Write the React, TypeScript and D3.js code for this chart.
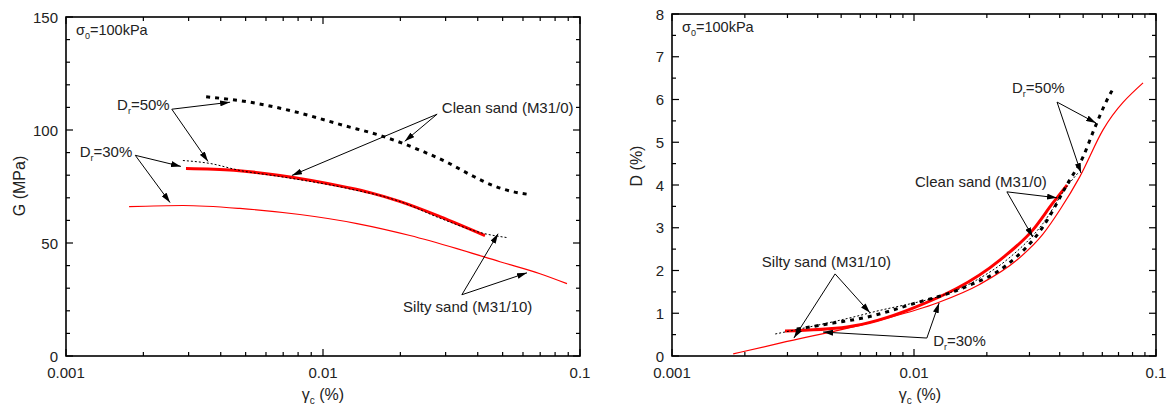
import React from 'react';
import * as d3 from 'd3';

const W = 1168;
const H = 406;
const FONT = 'Arial, "Liberation Sans", Helvetica, sans-serif';

// ---------- Data: left panel, G (MPa) vs cyclic strain γc (%) ----------
const gDr50Clean: [number, number][] = [
  [0.00351, 114.7], [0.0052, 112.3], [0.00764, 108.3], [0.01196, 102.1], [0.0171, 97.2],
  [0.0239, 91.0], [0.0304, 85.7], [0.0373, 80.3], [0.0459, 75.4], [0.0549, 72.7],
  [0.0622, 71.6],
];
const gDr50Silty: [number, number][] = [
  [0.00285, 86.5], [0.00363, 85.2], [0.00475, 82.1], [0.0068, 79.4], [0.0124, 74.2],
  [0.02, 68.3], [0.0285, 61.0], [0.0427, 54.1], [0.052, 52.4],
];
const gDr30Clean: [number, number][] = [
  [0.00293, 83.0], [0.0045, 82.2], [0.0068, 79.9], [0.0124, 74.6], [0.01524, 72.3],
  [0.02, 68.3], [0.0285, 61.7], [0.0427, 53.3],
];
const gDr30Silty: [number, number][] = [
  [0.00176, 66.1], [0.00285, 66.6], [0.00475, 65.3], [0.00813, 62.6], [0.01356, 58.6],
  [0.0218, 53.3], [0.0332, 47.5], [0.0488, 41.7], [0.0699, 36.4], [0.089, 32.0],
];

// ---------- Data: right panel, D (%) vs cyclic strain γc (%) ----------
const dDr50Clean: [number, number][] = [
  [0.00328, 0.63], [0.00463, 0.77], [0.0064, 0.91], [0.0099, 1.22], [0.0159, 1.59],
  [0.0242, 2.13], [0.0341, 3.02], [0.0433, 4.05], [0.0499, 4.65], [0.0554, 5.29],
  [0.0634, 6.04], [0.066, 6.22],
];
const dDr50Silty: [number, number][] = [
  [0.00267, 0.515], [0.00658, 1.01], [0.0182, 1.78], [0.0242, 2.25], [0.0341, 3.1],
  [0.0433, 4.0], [0.0476, 4.28],
];
const dDr30Clean: [number, number][] = [
  [0.00293, 0.585], [0.00529, 0.68], [0.0099, 1.12], [0.0227, 2.25], [0.031, 2.95],
  [0.0375, 3.58], [0.0429, 4.0],
];
const dDr30Silty: [number, number][] = [
  [0.00179, 0.05], [0.00279, 0.3], [0.00724, 0.84], [0.01245, 1.24], [0.01874, 1.68],
  [0.0267, 2.25], [0.0341, 2.85], [0.0401, 3.42], [0.0484, 4.19], [0.0604, 5.29],
  [0.0884, 6.39],
];

// ---------- Axes ----------
const strainDomain: [number, number] = [0.001, 0.1];
const strainTickLabels = ['0.001', '0.01', '0.1'];
const gDomain: [number, number] = [0, 150];
const gTickValues = [0, 50, 100, 150];
const gMinorStep = 10;
const dDomain: [number, number] = [0, 8];
const dTickValues = [0, 1, 2, 3, 4, 5, 6, 7, 8];
const dMinorStep = 0.5;

// ---------- Annotations (data coordinates) ----------
type Note = { main: string; sub?: string; rest?: string; at: [number, number]; from: [number, number]; to: [number, number][] };
const gNotes: Note[] = [
  { main: 'D', sub: 'r', rest: '=50%', at: [0.00158, 111.4], from: [0.00258, 109.2], to: [[0.00435, 112.3], [0.00357, 86.1]] },
  { main: 'D', sub: 'r', rest: '=30%', at: [0.00113, 90.5], from: [0.00186, 88.8], to: [[0.0028, 83.9], [0.00254, 67.9]] },
  { main: 'Clean sand (M31/0)', at: [0.029, 110.1], from: [0.0278, 107.0], to: [[0.00757, 79.9], [0.0208, 95.0]] },
  { main: 'Silty sand (M31/10)', at: [0.0205, 21.7], from: [0.0347, 27.1], to: [[0.048, 54.1], [0.0622, 36.8]] },
];
const dNotes: Note[] = [
  { main: 'D', sub: 'r', rest: '=50%', at: [0.0254, 6.27], from: [0.039, 5.94], to: [[0.0565, 5.45], [0.049, 4.28]] },
  { main: 'Clean sand (M31/0)', at: [0.0101, 4.09], from: [0.0242, 3.84], to: [[0.039, 3.7], [0.031, 2.78]] },
  { main: 'Silty sand (M31/10)', at: [0.00235, 2.2], from: [0.00472, 1.92], to: [[0.00319, 0.42], [0.00658, 1.01]] },
  { main: 'D', sub: 'r', rest: '=30%', at: [0.012, 0.37], from: [0.0113, 0.42], to: [[0.00421, 0.56], [0.0127, 1.24]] },
];

type Series = { data: [number, number][]; color: string; width: number; dash?: string };
const gSeries: Series[] = [
  { data: gDr30Silty, color: '#ff0000', width: 1.2 },
  { data: gDr30Clean, color: '#ff0000', width: 3 },
  { data: gDr50Silty, color: '#000', width: 1, dash: '2 2' },
  { data: gDr50Clean, color: '#000', width: 3, dash: '4 5' },
];
const dSeries: Series[] = [
  { data: dDr30Silty, color: '#ff0000', width: 1.2 },
  { data: dDr30Clean, color: '#ff0000', width: 3 },
  { data: dDr50Silty, color: '#000', width: 1, dash: '2 2' },
  { data: dDr50Clean, color: '#000', width: 3, dash: '4 5' },
];

type Box = { x0: number; x1: number; y0: number; y1: number };

function Panel(props: {
  box: Box; yDomain: [number, number]; yTicks: number[]; yMinorStep: number;
  yTitle: string; yTitleX: number; yTitleY: number; xTitleX: number;
  series: Series[]; notes: Note[];
}) {
  const { box, yDomain, yTicks, yMinorStep, yTitle, yTitleX, yTitleY, xTitleX, series, notes } = props;
  const x = d3.scaleLog().domain(strainDomain).range([box.x0, box.x1]);
  const y = d3.scaleLinear().domain(yDomain).range([box.y1, box.y0]);
  const xTicks = x.ticks();
  const isMajor = (v: number) => Math.abs(Math.log10(v) - Math.round(Math.log10(v))) < 1e-6;
  const yMinor = d3.range(yDomain[0], yDomain[1] + 1e-9, yMinorStep);
  const line = d3.line<[number, number]>().x(d => x(d[0])).y(d => y(d[1])).curve(d3.curveMonotoneX);
  const majorLen = 7, minorLen = 4;
  return (
    <g>
      {series.map((s, i) => (
        <path key={i} d={line(s.data) || ''} fill="none" stroke={s.color} strokeWidth={s.width}
          strokeDasharray={s.dash} strokeLinecap="butt" strokeLinejoin="round" />
      ))}
      {/* frame */}
      <rect x={box.x0} y={box.y0} width={box.x1 - box.x0} height={box.y1 - box.y0} fill="none" stroke="#000" strokeWidth={1.6} />
      {/* x ticks bottom and top */}
      {xTicks.map((t, i) => {
        const L = isMajor(t) ? majorLen : minorLen;
        const px = x(t);
        return (
          <g key={'xt' + i} stroke="#000" strokeWidth={1.2}>
            <line x1={px} x2={px} y1={box.y1} y2={box.y1 - L} />
            <line x1={px} x2={px} y1={box.y0} y2={box.y0 + L} />
          </g>
        );
      })}
      {/* y ticks left and right */}
      {yMinor.map((t, i) => {
        const major = yTicks.some(v => Math.abs(v - t) < 1e-9);
        const L = major ? majorLen : minorLen;
        const py = y(t);
        return (
          <g key={'yt' + i} stroke="#000" strokeWidth={1.2}>
            <line x1={box.x0} x2={box.x0 + L} y1={py} y2={py} />
            <line x1={box.x1} x2={box.x1 - L} y1={py} y2={py} />
          </g>
        );
      })}
      {/* x tick labels */}
      {strainTickLabels.map((lab, i) => (
        <text key={'xl' + i} x={x(+lab)} y={box.y1 + 22} textAnchor="middle" fontSize={15} fontFamily={FONT} fill="#222">{lab}</text>
      ))}
      {/* y tick labels */}
      {yTicks.map((v, i) => (
        <text key={'yl' + i} x={box.x0 - 8} y={y(v) + 5.5} textAnchor="end" fontSize={15} fontFamily={FONT} fill="#222">{String(v)}</text>
      ))}
      {/* axis titles */}
      <text x={xTitleX} y={box.y1 + 44} textAnchor="middle" fontSize={16} fontFamily={FONT} fill="#222">
        γ<tspan fontSize={10} dy={4}>c</tspan><tspan dy={-4}> (%)</tspan>
      </text>
      <text transform={`translate(${yTitleX},${yTitleY}) rotate(-90)`} textAnchor="middle" fontSize={16} fontFamily={FONT} fill="#222">{yTitle}</text>
      {/* stress label */}
      <text x={box.x0 + 10} y={box.y0 + 18} fontSize={14.5} fontFamily={FONT} fill="#222">
        σ<tspan fontSize={9} dy={4}>0</tspan><tspan dy={-4}>=100kPa</tspan>
      </text>
      {/* annotations */}
      {notes.map((n, i) => (
        <g key={'n' + i}>
          {n.to.map((t, j) => (
            <line key={j} x1={x(n.from[0])} y1={y(n.from[1])} x2={x(t[0])} y2={y(t[1])}
              stroke="#000" strokeWidth={1} markerEnd="url(#arrowHead)" />
          ))}
          <text x={x(n.at[0])} y={y(n.at[1]) + 5.5} fontSize={15} fontFamily={FONT} fill="#222">
            {n.main}
            {n.sub ? <tspan fontSize={9} dy={4}>{n.sub}</tspan> : null}
            {n.rest ? <tspan dy={n.sub ? -4 : 0}>{n.rest}</tspan> : null}
          </text>
        </g>
      ))}
    </g>
  );
}

export default function App() {
  return (
    <svg width={W} height={H} style={{ position: 'absolute', left: 0, top: 0, background: '#fff' }}>
      <defs>
        <marker id="arrowHead" viewBox="0 0 10 6" refX={10} refY={3} markerWidth={10} markerHeight={6}
          markerUnits="userSpaceOnUse" orient="auto">
          <path d="M0,0 L10,3 L0,6 z" fill="#000" />
        </marker>
      </defs>
      <rect width={W} height={H} fill="#fff" />
      <Panel box={{ x0: 66, x1: 580, y0: 17, y1: 356 }} yDomain={gDomain} yTicks={gTickValues} yMinorStep={gMinorStep}
        yTitle="G (MPa)" yTitleX={25} yTitleY={186} xTitleX={323} series={gSeries} notes={gNotes} />
      <Panel box={{ x0: 672, x1: 1156, y0: 14, y1: 356 }} yDomain={dDomain} yTicks={dTickValues} yMinorStep={dMinorStep}
        yTitle="D (%)" yTitleX={642} yTitleY={166} xTitleX={920} series={dSeries} notes={dNotes} />
    </svg>
  );
}
